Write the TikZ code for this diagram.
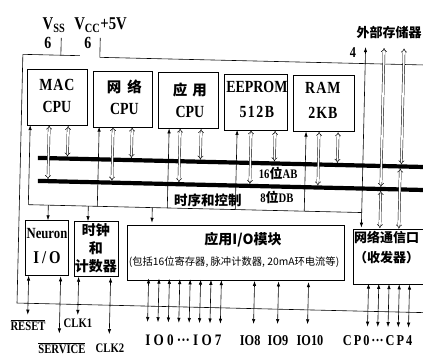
\documentclass[tikz,border=0pt]{standalone}
\usepackage{fontspec}
\setmainfont{Liberation Serif}
\newfontfamily\cond[FakeStretch=0.82]{Liberation Serif}
\newfontfamily\cjk{Noto Sans CJK SC}
\usetikzlibrary{arrows.meta}
\newcommand\gapx{\hspace{3.2pt}}
\newcommand\gapy{\hspace{2pt}}
\tikzset{
  box/.style={draw, line width=0.7pt, inner sep=0pt},
  txt/.style={inner sep=0pt, align=center},
  lat/.style={txt, font=\cond\bfseries\fontsize{#1}{22}\selectfont},
  han/.style={txt, font=\cjk\fontsize{#1}{18}\selectfont},
  hanb/.style={txt, font=\cjk\bfseries\fontsize{#1}{18}\selectfont},
  bus/.style={line width=4.2pt},
  wire/.style={line width=0.6pt},
  ctlarrow/.style={line width=0.6pt, -{Latex[length=5pt,width=3.4pt]}},
  dblarrow/.style={double, double distance=1.6pt, line width=0.45pt, {Implies}-{Implies}},
  ioarrow/.style={line width=0.6pt, {Latex[length=5pt,width=3.4pt]}-{Latex[length=5pt,width=3.4pt]}},
}
\newcommand\topconn[4]{%
  \draw[ctlarrow] (#2,0 |- clL) -- (#2,0 |- #1.south);
  \draw[dblarrow] (#3,0 |- #1.south) -- (#3,0 |- dbtop);
  \draw[dblarrow] (#4,0 |- #1.south) -- (#4,0 |- abtop);
}
\begin{document}
\begin{tikzpicture}[x=1pt,y=-1pt]
\useasboundingbox (0,0) rectangle (423,356);
\fill[white] (0,0) rectangle (423,356);
\clip (0,0) rectangle (423,356);
\begin{scope}[rotate around={-1.35:(211.5,178)}]
% named coordinates
\coordinate (abL) at (37.5,162); \coordinate (abR) at (445,162);
\coordinate (dbL) at (38,185); \coordinate (dbR) at (445,185);
\coordinate (abtop) at (0,159.9); \coordinate (abbot) at (0,164.1);
\coordinate (dbtop) at (0,183); \coordinate (dbbot) at (0,187);
\coordinate (clL) at (29,209); \coordinate (clR) at (362.5,209);
\coordinate (extTop) at (362.5,43.5);
\coordinate (memTop) at (0,44);
\coordinate (vssA) at (58,41.5); \coordinate (vssB) at (58,58.8);
\coordinate (railL) at (20,58.8); \coordinate (railR) at (77,58.8);
\coordinate (gndL) at (20,307.6); \coordinate (gndR) at (445,307.6);
\coordinate (vccA) at (97,40.6); \coordinate (vccB) at (97,60); \coordinate (vccR) at (445,60);

% power
\node[lat=18] (vssT) at (50.4,28.7) {V\textsubscript{SS}};
\node[lat=18] (vccT) at (97,27.6) {V\textsubscript{CC}+5V};
\node[lat=17] (sixA) at (44.8,46.8) {6};
\node[lat=17] (sixB) at (84.8,45.9) {6};
\draw[wire] (vssA) -- (vssB);
\draw[wire] (railL) -- (railR);
\draw[wire] (railL) -- (gndL) -- (gndR);
\draw[wire] (vccA) -- (vccB) -- (vccR);

% top boxes
\node[box, minimum width=60pt, minimum height=56pt] (mac) at (55,101) {};
\node[box, minimum width=59pt, minimum height=56pt] (net) at (120.6,101) {};
\node[box, minimum width=60pt, minimum height=56pt] (app) at (186.2,101) {};
\node[box, minimum width=63pt, minimum height=56pt] (eep) at (253.7,101) {};
\node[box, minimum width=61pt, minimum height=56pt] (ram) at (321.8,101) {};
\node[lat=17] (macT) at (55,99.5) {M\hspace{1pt}A\hspace{1pt}C\\CPU};
\node[lat=17] (netT) at (122.5,99.5) {{\cjk\bfseries\fontsize{14.5}{22}\selectfont 网\hspace{6pt}络}\\CPU};
\node[lat=17] (appT) at (188,100.5) {{\cjk\bfseries\fontsize{14.5}{22}\selectfont 应\hspace{5pt}用}\\CPU};
\node[lat=17] (eepT) at (255,98.5) {EEPROM\\[3pt]5\hspace{1.5pt}1\hspace{1.5pt}2\hspace{1.5pt}B};
\node[lat=17] (ramT) at (321,98) {R\hspace{1pt}A\hspace{1pt}M\\[3pt]2\hspace{1pt}K\hspace{1pt}B};

% buses
\draw[bus] (abL) -- (abR);
\draw[bus] (dbL) -- (dbR);
\draw[wire] (clL) -- (clR);
\node[lat=13] (abT) at (278,171.4) {16{\cjk 位}AB};
\node[lat=13] (dbT) at (277.4,195.5) {8{\cjk 位}DB};
\node[hanb=13.5] (clT) at (208.5,200.1) {时序和控制};

\topconn{mac}{29}{48}{67}
\topconn{net}{98}{112}{131}
\topconn{app}{168}{179}{200}
\topconn{eep}{236}{250}{274}
\topconn{ram}{305}{318}{337}

% lower boxes
\node[box, minimum width=43pt, minimum height=55pt] (neu) at (48.2,252) {};
\node[box, minimum width=44pt, minimum height=55pt] (clk) at (97.7,252) {};
\node[box, minimum width=217pt, minimum height=55pt] (appio) at (237.2,252) {};
\node[box, minimum width=85pt, minimum height=55pt] (netcom) at (397.4,252) {};
\node[lat=15.5] (neuT) at (48.3,236.9) {Neuron};
\node[lat=18] (neuIO) at (48.9,261.9) {I\,/\,O};
\node[hanb=14] (clkT) at (97.6,250.7) {时钟\\和\\计数器};
\node[hanb=14] (appioT) at (244.5,239.3) {应用I/O模块};
\node[han=10.3] (appioS) at (236,261.5) {(包括16位寄存器, 脉冲计数器, 20mA环电流等)};
\node[hanb=13] (netcomT) at (388,233.8) {网络通信口};
\node[hanb=13] (netcomS) at (388.5,253.9) {（收发器）};

% control arrows down
\draw[ctlarrow] (49,0 |- clL) -- (49,0 |- neu.north);
\draw[ctlarrow] (89,0 |- clL) -- (89,0 |- clk.north);
\draw[ctlarrow] (153,0 |- clL) -- (153,0 |- appio.north);
\draw[ctlarrow] (clR) -- (clR |- netcom.north);
\draw[ctlarrow] (clR) -- (extTop);

% external memory
\node[hanb=13] (extT) at (385.6,28.8) {外部存储器};
\node[lat=15] (four) at (350,49.7) {4};
\draw[dblarrow] (381,0 |- memTop) -- (381,0 |- dbtop);
\draw[dblarrow] (401,0 |- memTop) -- (401,0 |- abtop);
\draw[dblarrow] (381,0 |- dbbot) -- (381,0 |- netcom.north);
\draw[dblarrow] (400,0 |- abbot) -- (400,0 |- netcom.north);

% bottom I/O
\coordinate (rstE) at (31,319);
\coordinate (srvE) at (63,337);
\coordinate (ck1E) at (81,318);
\coordinate (ck2E) at (113,336.5);
\draw[ioarrow] (31,0 |- neu.south) -- (rstE);
\draw[ioarrow] (63,0 |- neu.south) -- (srvE);
\draw[ioarrow] (81,0 |- clk.south) -- (ck1E);
\draw[ioarrow] (113,0 |- clk.south) -- (ck2E);
\node[lat=13] (rst) at (31.5,329.2) {$\overline{\mbox{RESET}}$};
\node[lat=13] (srv) at (66,351.5) {$\overline{\mbox{SERVICE}}$};
\node[lat=13] (ck1) at (81.4,326.1) {CLK1};
\node[lat=13] (ck2) at (114,351) {CLK2};

\foreach \i in {0,...,7}{
  \pgfmathsetmacro\xx{151+10.4*\i}
  \coordinate (ioE\i) at (\xx,323.5);
  \draw[ioarrow] (\xx,0 |- appio.south) -- (ioE\i);
}
\coordinate (ioE8) at (257,323);
\coordinate (ioE9) at (281,322.5);
\coordinate (ioE10) at (311,322);
\draw[ioarrow] (257,0 |- appio.south) -- (ioE8);
\draw[ioarrow] (281,0 |- appio.south) -- (ioE9);
\draw[ioarrow] (311,0 |- appio.south) -- (ioE10);
\foreach \i in {0,...,4}{
  \pgfmathsetmacro\xx{371+10.25*\i}
  \coordinate (cpE\i) at (\xx,323);
  \draw[ioarrow] (\xx,0 |- netcom.south) -- (cpE\i);
}
\node[lat=16] (io07) at (187.3,340.7) {I\gapx O\gapx 0\gapx ···\gapx I\gapx O\gapx 7};
\node[lat=15] (io8) at (254,340.1) {IO8};
\node[lat=15] (io9) at (281.8,339.4) {IO9};
\node[lat=15] (io10) at (313.8,338.7) {IO10};
\node[lat=15, anchor=west] (cp) at (346.5,337.5) {C\gapy P\gapy 0\gapy ···\gapy C\gapy P\gapy 4};
\end{scope}
\end{tikzpicture}
\end{document}
